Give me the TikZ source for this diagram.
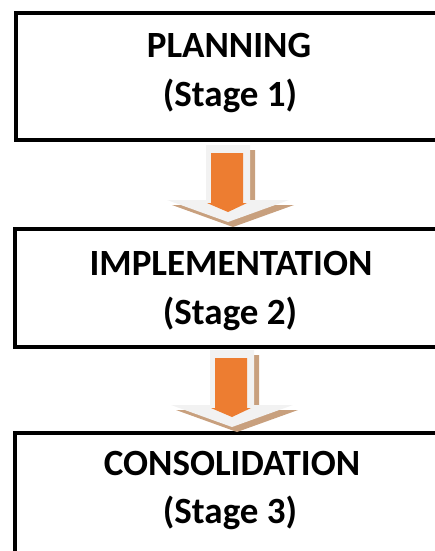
\documentclass[tikz,border=0pt]{standalone}
\usepackage{fontspec}
\setmainfont{Carlito}
\begin{document}
\begin{tikzpicture}[x=1pt,y=1pt,
  stagebox/.style={draw=black,line width=4pt,fill=white},
  title/.style={font=\bfseries\fontsize{37}{42}\selectfont,anchor=base,inner sep=0pt},
  greyarrow/.style={fill=black!5,draw=none},
  shadowarrow/.style={fill={rgb,255:red,200;green,160;blue,126},draw=none},
  orangearrow/.style={fill={rgb,255:red,237;green,125;blue,49},draw=none}]
\useasboundingbox (0,0) rectangle (435,-551);
\clip (0,0) rectangle (435,-551);
% boxes
\draw[stagebox] (16,-13) rectangle (447,-140);
\node[title] (p1) at (229,-57) {PLANNING};
\node[title] (s1) at (230,-106) {(Stage 1)};
\draw[stagebox] (15,-229) rectangle (447,-347);
\node[title] (p2) at (231,-275) {IMPLEMENTATION};
\node[title] (s2) at (230,-324) {(Stage 2)};
\draw[stagebox] (15,-433) rectangle (447,-570);
\node[title] (p3) at (232,-475) {CONSOLIDATION};
\node[title] (s3) at (230,-523) {(Stage 3)};
% block arrows
\newcommand\blockarr[2]{%
 \begin{scope}[shift={(#1,#2)}]
  \fill[shadowarrow] (-17,-5) -- (27,-5) -- (27,-60) -- (66,-60) -- (5,-82) -- (-56,-60) -- (-17,-60) -- cycle;
  \fill[greyarrow] (-22,0) -- (22,0) -- (22,-55) -- (61,-55) -- (0,-77) -- (-61,-55) -- (-22,-55) -- cycle;
  \fill[orangearrow] (-17,-8) -- (15,-8) -- (15,-58) -- (19,-58) -- (0,-67) -- (-21,-58) -- (-17,-58) -- cycle;
 \end{scope}}
\blockarr{228}{-145}
\blockarr{232}{-350}
\end{tikzpicture}
\end{document}
